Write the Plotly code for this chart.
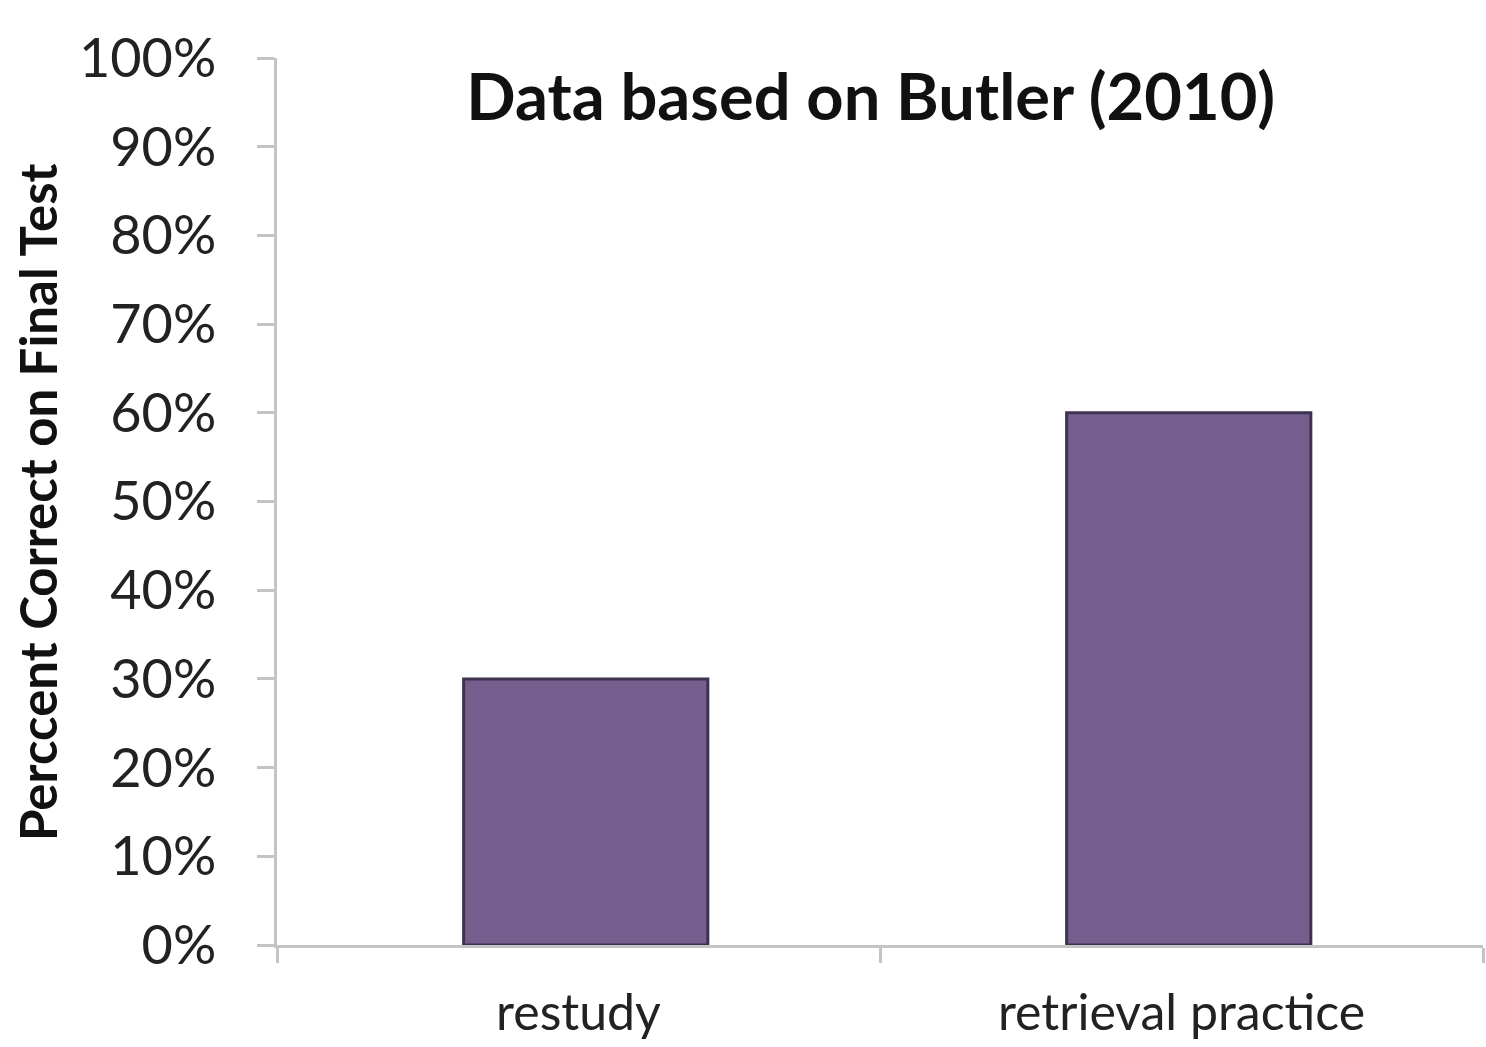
import plotly.graph_objects as go

# Final-test performance by study condition
conditions = ["restudy", "retrieval practice"]
percent_correct = [0.30, 0.60]

y_ticks = [0.0, 0.1, 0.2, 0.3, 0.4, 0.5, 0.6, 0.7, 0.8, 0.9, 1.0]

FONT = "Lato, 'Open Sans', sans-serif"
BAR_FILL = "#765e8f"
BAR_EDGE = "#3d3350"
AXIS_GREY = "#c4c4c4"
TEXT = "#1e1e1e"

BAR_WIDTH = 0.405

fig = go.Figure(
    go.Bar(
        x=conditions,
        y=percent_correct,
        width=BAR_WIDTH,
        offset=-BAR_WIDTH / 2 + 0.012,
        marker=dict(color=BAR_FILL, line=dict(color=BAR_EDGE, width=3)),
        hoverinfo="x+y",
    )
)

fig.update_layout(
    width=1486,
    height=1047,
    margin=dict(l=277, r=3, t=58, b=102, autoexpand=False),
    paper_bgcolor="white",
    plot_bgcolor="white",
    showlegend=False,
    font=dict(family=FONT, color=TEXT),
    title=dict(
        text="<b>Data based on Butler (2010)</b>",
        x=0.586,
        xanchor="center",
        xref="container",
        y=1 - 97 / 1047,
        yanchor="middle",
        yref="container",
        font=dict(family=FONT, size=65, color="#111111"),
    ),
)

fig.update_yaxes(
    range=[0, 1],
    tickvals=y_ticks,
    tickformat=".0%",
    showgrid=False,
    zeroline=False,
    showline=True,
    linecolor=AXIS_GREY,
    linewidth=3,
    ticks="outside",
    ticklen=17,
    tickwidth=3,
    tickcolor=AXIS_GREY,
    ticklabelstandoff=30,
    automargin=False,
    tickfont=dict(family=FONT, size=54, color="#222222"),
)

fig.update_xaxes(
    showgrid=False,
    zeroline=False,
    showline=True,
    linecolor=AXIS_GREY,
    linewidth=3,
    ticks="outside",
    tickson="boundaries",
    ticklen=15,
    tickwidth=3,
    tickcolor=AXIS_GREY,
    ticklabelstandoff=22,
    automargin=False,
    tickfont=dict(family=FONT, size=50, color="#222222"),
)

# Rotated y-axis caption placed beside the tick labels
fig.add_annotation(
    text="<b>Perccent Correct on Final Test</b>",
    xref="paper",
    yref="paper",
    x=(37 - 277) / 1206,
    y=(945 - 502) / 887,
    xanchor="center",
    yanchor="middle",
    textangle=-90,
    showarrow=False,
    font=dict(family=FONT, size=51, color="#111111"),
)

fig.write_html("out.html")
